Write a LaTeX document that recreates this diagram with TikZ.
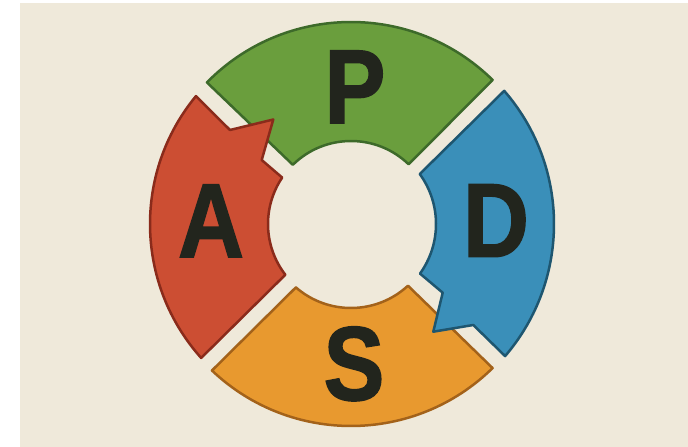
\documentclass[tikz,border=0pt]{standalone}
\usepackage{fontspec}
\setmainfont{Liberation Sans}
\newfontfamily\lettfont[FakeBold=1.5]{Liberation Sans Bold}
\usetikzlibrary{calc}
\definecolor{bg}{HTML}{EFE9DA}
\definecolor{pfill}{HTML}{6A9E3D}
\definecolor{pline}{HTML}{3D6A2A}
\definecolor{dfill}{HTML}{3A8FB9}
\definecolor{dline}{HTML}{1E5670}
\definecolor{afill}{HTML}{CC4E33}
\definecolor{aline}{HTML}{8A2B1B}
\definecolor{sfill}{HTML}{E8992F}
\definecolor{sline}{HTML}{A3621A}
\definecolor{ink}{HTML}{22251D}
\begin{document}
\begin{tikzpicture}[x=1pt,y=1pt,
  seg/.style={line width=2.5pt, line join=round},
  letter/.style={font=\fontsize{105}{105}\selectfont\lettfont, text=ink, anchor=base, inner sep=0pt, xscale=0.87}]
\useasboundingbox (0,0) rectangle (688,447);
\fill[white] (0,0) rectangle (688,447);
\fill[bg] (20,0) rectangle (688,444);
\coordinate (C) at (351,223);
% P (green, top)
\draw[seg, draw=pline, fill=pfill]
  ($(C)+(135.5:202pt)$) arc[start angle=135.5, end angle=45.5, radius=202pt]
  -- ($(C)+(46:83pt)$) arc[start angle=46, end angle=134.5, radius=83pt] -- cycle;
% S (orange, bottom)
\draw[seg, draw=sline, fill=sfill]
  ($(C)+(226.5:202pt)$) arc[start angle=226.5, end angle=314.5, radius=202pt]
  -- ($(C)+(312.7:84pt)$) arc[start angle=312.7, end angle=229, radius=84pt] -- cycle;
% A (red, left) with barb at top
\coordinate (a1) at (261.7,287);
\coordinate (a2) at (273.3,327.5);
\coordinate (a3) at (230,317);
\draw[seg, draw=aline, fill=afill]
  ($(C)+(140.5:201pt)$) arc[start angle=140.5, end angle=221.8, radius=201pt]
  -- ($(C)+(217.7:83pt)$) arc[start angle=217.7, end angle=146, radius=83pt]
  -- (a1) -- (a2) -- (a3) -- cycle;
% D (blue, right) with barb at bottom
\coordinate (d1) at (473.3,122);
\coordinate (d2) at (433.3,115.3);
\coordinate (d3) at (442.7,154.3);
\draw[seg, draw=dline, fill=dfill]
  ($(C)+(41:203pt)$) arc[start angle=41, end angle=-40.6, radius=203pt]
  -- (d1) -- (d2) -- (d3)
  -- ($(C)+(-35.7:85pt)$) arc[start angle=-35.7, end angle=36, radius=85pt] -- cycle;
% letters
\node[letter] (P) at (355,324) {P};
\node[letter] (A) at (211,190) {A};
\node[letter] (D) at (496,190.3) {D};
\node[letter] (S) at (354,47) {S};
\end{tikzpicture}
\end{document}
